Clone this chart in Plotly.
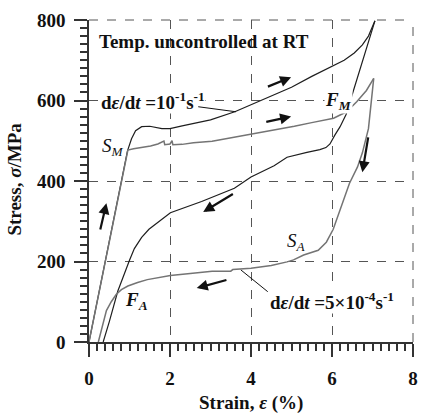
import plotly.graph_objects as go

# ---- data (strain %, stress MPa) ----
fast_load_x = [0, 0.3, 0.6, 0.95, 1.05, 1.15, 1.3, 1.5, 1.8, 2.0, 2.3, 2.6, 3.0, 3.6, 4.0, 4.5, 5.0, 5.5, 6.0, 6.3, 6.55, 6.75, 6.9, 7.06]
fast_load_y = [0, 150, 305, 475, 505, 525, 535, 536, 530, 530, 537, 544, 552, 572, 589, 610, 633, 660, 686, 700, 718, 738, 760, 798]

fast_unload_x = [7.06, 6.75, 6.5, 6.35, 6.2, 6.07, 5.95, 5.85, 5.7, 5.38, 4.89, 4.57, 4.0, 3.59, 2.78, 2.01, 1.48, 1.3, 1.12, 1.0, 0.85, 0.71, 0.5, 0.35]
fast_unload_y = [798, 700, 615, 566, 535, 514, 492, 483, 478, 471, 459, 438, 410, 382, 349, 321, 280, 260, 232, 203, 165, 126, 50, 0]

slow_load_x = [0, 0.96, 1.1, 1.3, 1.52, 1.7, 1.85, 1.87, 2.0, 2.05, 2.07, 2.3, 2.58, 3.04, 3.5, 4.01, 4.5, 5.07, 5.5, 6.04, 6.36, 6.61, 6.85, 7.03]
slow_load_y = [0, 477, 480, 483, 487, 492, 499, 490, 492, 500, 490, 491, 495, 499, 507, 516, 525, 536, 545, 556, 572, 597, 625, 655]

slow_unload_x = [7.03, 6.9, 6.75, 6.63, 6.43, 6.23, 6.03, 5.86, 5.66, 5.3, 5.05, 4.89, 4.5, 4.0, 3.55, 3.5, 3.04, 2.5, 2.01, 1.44, 1.2, 0.96, 0.8, 0.67, 0.55, 0.43, 0.23]
slow_unload_y = [655, 530, 470, 435, 394, 335, 280, 248, 228, 216, 204, 199, 190, 183, 180, 176, 176, 170, 165, 155, 148, 139, 130, 118, 100, 78, 0]

x_ticks = [0, 2, 4, 6, 8]
y_ticks = [0, 200, 400, 600, 800]

SERIF = "Liberation Serif, Times New Roman, Times, serif"
BLACK = "#1e1e1e"
GRAY = "#747474"

fig = go.Figure()
fig.add_trace(go.Scatter(x=fast_load_x, y=fast_load_y, mode="lines", line=dict(color=BLACK, width=1.2), hoverinfo="skip"))
fig.add_trace(go.Scatter(x=fast_unload_x, y=fast_unload_y, mode="lines", line=dict(color=BLACK, width=1.2), hoverinfo="skip"))
fig.add_trace(go.Scatter(x=slow_load_x, y=slow_load_y, mode="lines", line=dict(color=GRAY, width=1.5), hoverinfo="skip"))
fig.add_trace(go.Scatter(x=slow_unload_x, y=slow_unload_y, mode="lines", line=dict(color=GRAY, width=1.5), hoverinfo="skip"))

ann = []
def text(x, y, s, size=19, xanchor="center", bg=None):
    d = dict(x=x, y=y, xref="x", yref="y", text=s, showarrow=False, xanchor=xanchor, yanchor="middle",
             font=dict(family=SERIF, size=size, color="#111"))
    if bg:
        d.update(bgcolor=bg, borderpad=0)
    ann.append(d)

def arrow(x0, y0, x1, y1, head=True, width=2.2):
    ann.append(dict(x=x1, y=y1, ax=x0, ay=y0, xref="x", yref="y", axref="x", ayref="y", text="",
                    showarrow=True, arrowhead=2 if head else 0, arrowsize=1.0, arrowwidth=width,
                    arrowcolor="#111", standoff=0, startstandoff=0))

text(0.19, 747, "<b>Temp. uncontrolled at RT</b>", size=19, xanchor="left")
text(0.27, 600, "<b>d<i>ε</i>/d<i>t</i> =10<sup>-1</sup>s<sup>-1</sup></b>", size=19, xanchor="left", bg="white")
text(6.0, 102, "<b>d<i>ε</i>/d<i>t</i> =5×10<sup>-4</sup>s<sup>-1</sup></b>", size=19, bg="white")
text(0.6, 484, "<i>S<sub>M</sub></i>", size=19)
text(6.15, 600, "<b><i>F<sub>M</sub></i></b>", size=19, bg="white")
text(5.13, 248, "<i>S<sub>A</sub></i>", size=19)
text(1.17, 102, "<b><i>F<sub>A</sub></i></b>", size=19)

# leader lines
arrow(2.66, 585, 3.63, 572, head=False, width=1)
arrow(4.45, 122, 3.75, 179, head=False, width=1)

# direction arrows
arrow(0.27, 276, 0.43, 345)
arrow(4.38, 633, 4.99, 658)
arrow(4.34, 546, 4.99, 560)
arrow(6.9, 512, 6.75, 422)
arrow(3.59, 370, 2.82, 323)
arrow(3.43, 155, 2.66, 134)

# axis titles
ann.append(dict(x=0.5, y=-0.19, xref="paper", yref="paper", showarrow=False, xanchor="center", yanchor="middle",
                text="<b>Strain, <i>ε</i> (%)</b>", font=dict(family=SERIF, size=19, color="#111")))
ann.append(dict(x=-0.231, y=0.505, xref="paper", yref="paper", showarrow=False, xanchor="center", yanchor="middle",
                text="<b>Stress, <i>σ</i>/MPa</b>", textangle=-90, font=dict(family=SERIF, size=19, color="#111")))

# dashed frame lines at the top and right range ends (grid continues there in the reference)
fig.add_shape(type="line", xref="paper", yref="paper", x0=0, x1=1, y0=1, y1=1,
              line=dict(color="#555", width=1, dash="dash"), layer="below")
fig.add_shape(type="line", xref="paper", yref="paper", x0=1, x1=1, y0=0, y1=1,
              line=dict(color="#555", width=1, dash="dash"), layer="below")

axis_common = dict(showline=True, linecolor="#333", linewidth=1.5, ticks="outside", ticklen=13, tickwidth=1.5,
                   tickcolor="#333", showgrid=True, gridcolor="#555", griddash="dash", gridwidth=1,
                   zeroline=False, tickfont=dict(family=SERIF, size=19, color="#111", weight="bold"))

fig.update_layout(
    width=428, height=414, margin=dict(l=89, r=10, t=13, b=72),
    font=dict(family=SERIF, color="#111"),
    paper_bgcolor="white", plot_bgcolor="white", showlegend=False,
    annotations=ann,
    xaxis=dict(range=[0, 8], tickvals=x_ticks, ticktext=[str(v) for v in x_ticks],
               minor=dict(ticks="outside", ticklen=7, dtick=0.2, tickcolor="#333", showgrid=False),
               ticklabelstandoff=5, **axis_common),
    yaxis=dict(range=[0, 800], tickvals=y_ticks, ticktext=[str(v) for v in y_ticks],
               minor=dict(ticks="outside", ticklen=7, dtick=20, tickcolor="#333", showgrid=False),
               ticklabelstandoff=5, **axis_common),
)

fig.write_html("out.html")
